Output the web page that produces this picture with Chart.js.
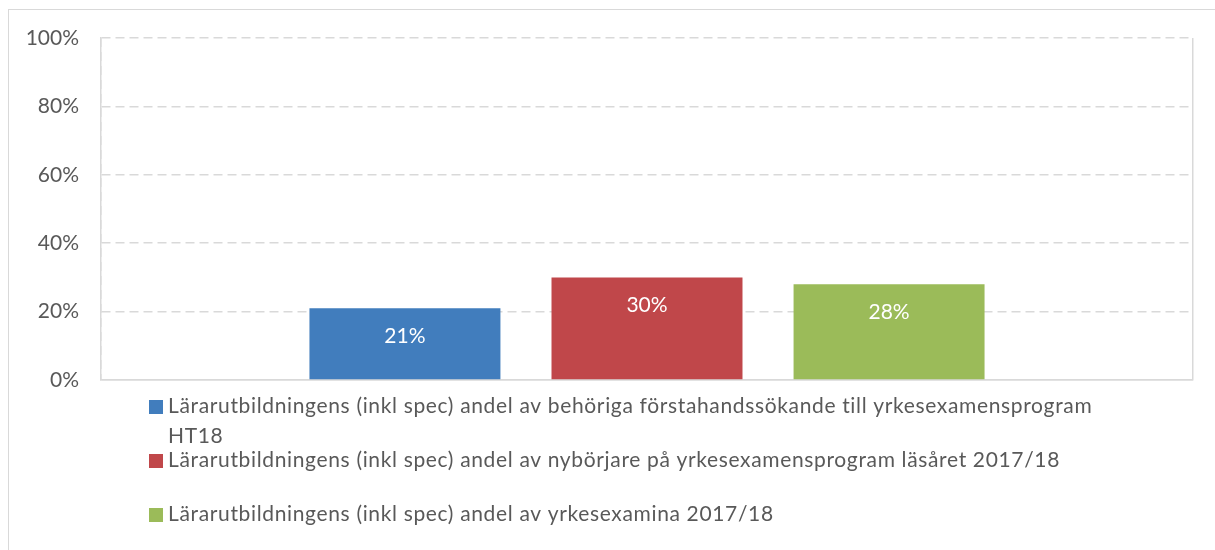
<!DOCTYPE html>
<html>
<head>
<meta charset="utf-8">
<script src="https://cdn.jsdelivr.net/npm/chart.js@4"></script>
<style>
  html, body { margin: 0; padding: 0; background: #ffffff; }
  #wrap { position: relative; width: 1215px; height: 550px; }
</style>
</head>
<body>
<div id="wrap"><canvas id="c" width="1215" height="550"></canvas></div>
<script>
// ---- data ----
const categories = [''];
const seriesLabels = [
  'Lärarutbildningens (inkl spec) andel av behöriga förstahandssökande till yrkesexamensprogram HT18',
  'Lärarutbildningens (inkl spec) andel av nybörjare på yrkesexamensprogram läsåret 2017/18',
  'Lärarutbildningens (inkl spec) andel av yrkesexamina 2017/18'
];
const behorigaSokande = [21];
const nyborjare = [30];
const yrkesexamina = [28];
const seriesColors = ['#417DBD', '#C0474A', '#9BBB59'];
const yTicks = [0, 20, 40, 60, 80, 100];

const FONT = 'Lato, "Open Sans", sans-serif';
const TEXT_COLOR = '#595959';
const GRID_COLOR = '#d9d9d9';

// frame + custom legend + value labels
const decorPlugin = {
  id: 'decor',
  beforeDraw(chart) {
    const ctx = chart.ctx;
    ctx.save();
    ctx.strokeStyle = GRID_COLOR;
    ctx.lineWidth = 1;
    ctx.strokeRect(8.5, 9.5, 1400, 700);
    ctx.restore();
  },
  afterDatasetsDraw(chart) {
    const ctx = chart.ctx;
    ctx.save();
    ctx.font = '21px ' + FONT;
    ctx.fillStyle = '#ffffff';
    ctx.textAlign = 'center';
    ctx.textBaseline = 'middle';
    chart.data.datasets.forEach((ds, i) => {
      const meta = chart.getDatasetMeta(i);
      meta.data.forEach((bar, j) => {
        const v = ds.data[j];
        ctx.fillText(v + '%', bar.x, bar.y + 28);
      });
    });
    ctx.restore();
  },
  afterDraw(chart) {
    const ctx = chart.ctx;
    ctx.save();
    ctx.font = '21px ' + FONT;
    ctx.textAlign = 'left';
    ctx.textBaseline = 'alphabetic';
    // widen spacing to match the reference's legend text width
    const ref = 'Lärarutbildningens (inkl spec) andel av behöriga förstahandssökande till yrkesexamensprogram';
    ctx.letterSpacing = '0px';
    const w0 = ctx.measureText(ref).width;
    const sp = Math.max(0, (925 - w0) / ref.length);
    ctx.letterSpacing = sp.toFixed(2) + 'px';
    const baselines = [413, 467, 521];
    const lineGap = 29.5;
    const textX = 168, boxX = 149, box = 14, maxW = 960;
    chart.data.datasets.forEach((ds, i) => {
      const words = ds.label.split(' ');
      const lines = [];
      let cur = '';
      words.forEach(w => {
        const t = cur ? cur + ' ' + w : w;
        if (ctx.measureText(t).width > maxW && cur) { lines.push(cur); cur = w; }
        else cur = t;
      });
      if (cur) lines.push(cur);
      const by = baselines[i];
      ctx.fillStyle = ds.backgroundColor;
      ctx.fillRect(boxX, by - 13, box, box);
      ctx.fillStyle = TEXT_COLOR;
      lines.forEach((ln, k) => ctx.fillText(ln, textX, by + k * lineGap));
    });
    ctx.restore();
  }
};

const dash = [9, 5];

new Chart(document.getElementById('c'), {
  type: 'bar',
  data: {
    labels: categories,
    datasets: [
      { label: seriesLabels[0], data: behorigaSokande, backgroundColor: seriesColors[0] },
      { label: seriesLabels[1], data: nyborjare, backgroundColor: seriesColors[1] },
      { label: seriesLabels[2], data: yrkesexamina, backgroundColor: seriesColors[2] }
    ]
  },
  options: {
    responsive: false,
    animation: false,
    devicePixelRatio: 1,
    layout: { padding: { left: 0, top: 38, right: 22, bottom: 170 } },
    datasets: { bar: { barPercentage: 0.789, categoryPercentage: 0.665 } },
    plugins: { legend: { display: false }, tooltip: { enabled: false } },
    scales: {
      x: {
        ticks: { display: false },
        grid: { display: true, drawTicks: false, color: GRID_COLOR, lineWidth: 1.5, offset: true },
        border: { display: true, color: GRID_COLOR, width: 1.5, dash: (c) => c.type === 'tick' ? dash : [] }
      },
      y: {
        min: 0, max: 100,
        afterBuildTicks(scale) { scale.ticks = yTicks.map(v => ({ value: v })); },
        afterFit(scale) { scale.width = 101; },
        ticks: {
          padding: 22,
          color: TEXT_COLOR,
          font: { family: FONT, size: 21 },
          callback: (v) => v + '%'
        },
        grid: { drawTicks: false, color: GRID_COLOR, lineWidth: 1.5 },
        border: { display: true, color: GRID_COLOR, width: 1.5, dash: (c) => (c.type === 'tick' && c.tick && c.tick.value === 0) ? [] : dash }
      }
    }
  },
  plugins: [decorPlugin]
});
</script>
</body>
</html>
